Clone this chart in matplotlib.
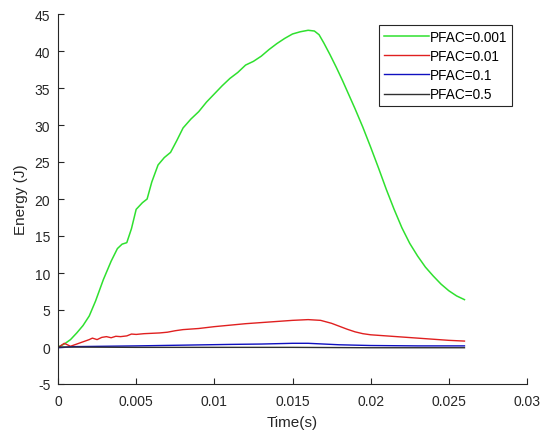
import matplotlib
matplotlib.use("Agg")
import matplotlib.pyplot as plt
from matplotlib.ticker import FuncFormatter, MultipleLocator

plt.rcParams['font.family'] = ['Liberation Sans', 'DejaVu Sans']

# PFAC = 0.001
t_g = [0, 0.0004, 0.0008, 0.0012, 0.0016, 0.002, 0.0024, 0.0029, 0.0034, 0.0038,
       0.0041, 0.0044, 0.0047, 0.005, 0.0054, 0.0057, 0.006, 0.0064, 0.0068, 0.0072,
       0.0076, 0.008, 0.0085, 0.009, 0.0095, 0.01, 0.0105, 0.011, 0.0115, 0.012,
       0.0125, 0.013, 0.0135, 0.014, 0.0145, 0.015, 0.0155, 0.016, 0.0164, 0.0167,
       0.017, 0.0174, 0.0178, 0.0182, 0.0186, 0.019, 0.0195, 0.02, 0.0205, 0.021,
       0.0215, 0.022, 0.0225, 0.023, 0.0235, 0.024, 0.0245, 0.025, 0.0255, 0.026]
e_g = [0, 0.4, 1.0, 1.9, 2.9, 4.2, 6.2, 9.1, 11.6, 13.3,
       13.9, 14.1, 16.0, 18.6, 19.5, 20.0, 22.3, 24.6, 25.6, 26.3,
       27.9, 29.6, 30.8, 31.8, 33.1, 34.2, 35.3, 36.3, 37.1, 38.1,
       38.6, 39.3, 40.2, 41.0, 41.7, 42.3, 42.6, 42.8, 42.7, 42.2,
       41.1, 39.5, 37.8, 36.0, 34.1, 32.2, 29.7, 27.0, 24.2, 21.3,
       18.6, 16.1, 14.0, 12.3, 10.8, 9.6, 8.5, 7.6, 6.9, 6.4]

# PFAC = 0.01
t_r = [0, 0.0004, 0.0008, 0.0012, 0.0016, 0.002, 0.0022, 0.0025, 0.0028, 0.0031,
       0.0034, 0.0037, 0.004, 0.0044, 0.0047, 0.005, 0.0055, 0.006, 0.0065, 0.007,
       0.0075, 0.008, 0.009, 0.01, 0.011, 0.012, 0.013, 0.014, 0.015, 0.016,
       0.0168, 0.0175, 0.018, 0.0185, 0.019, 0.0195, 0.02, 0.021, 0.022, 0.023,
       0.024, 0.025, 0.026]
e_r = [-0.1, 0.5, 0.1, 0.4, 0.7, 1.0, 1.2, 1.0, 1.3, 1.4,
       1.25, 1.45, 1.4, 1.5, 1.75, 1.7, 1.8, 1.85, 1.9, 2.0,
       2.2, 2.35, 2.5, 2.75, 2.95, 3.15, 3.3, 3.45, 3.6, 3.7,
       3.6, 3.2, 2.8, 2.4, 2.05, 1.8, 1.65, 1.5, 1.35, 1.2,
       1.05, 0.9, 0.8]

# PFAC = 0.1
t_b = [0, 0.001, 0.003, 0.005, 0.008, 0.011, 0.013, 0.015, 0.016, 0.017,
       0.018, 0.02, 0.023, 0.026]
e_b = [-0.1, 0.05, 0.1, 0.15, 0.25, 0.35, 0.4, 0.5, 0.5, 0.4,
       0.3, 0.2, 0.15, 0.15]

# PFAC = 0.5
t_k = [0, 0.005, 0.01, 0.015, 0.02, 0.026]
e_k = [0, -0.05, -0.05, -0.05, -0.1, -0.1]

fig = plt.figure(figsize=(5.49, 4.35), dpi=100)
ax = fig.add_axes([58/549, 1-385/435, (527-58)/549, (385-15)/435])

ax.plot(t_g, e_g, color='#2fe02f', lw=1.1, label='PFAC=0.001')
ax.plot(t_r, e_r, color='#e02020', lw=1.0, label='PFAC=0.01')
ax.plot(t_b, e_b, color='#1010c0', lw=1.0, label='PFAC=0.1')
ax.plot(t_k, e_k, color='#303030', lw=1.0, label='PFAC=0.5')

ax.set_xlim(0, 0.03)
ax.set_ylim(-5, 45)
ax.xaxis.set_major_locator(MultipleLocator(0.005))
ax.yaxis.set_major_locator(MultipleLocator(5))
ax.xaxis.set_major_formatter(FuncFormatter(lambda v, p: '%g' % round(v, 4)))
ax.yaxis.set_major_formatter(FuncFormatter(lambda v, p: '%g' % v))

gray = '#262626'
for s in ['top', 'right']:
    ax.spines[s].set_visible(False)
for s in ['left', 'bottom']:
    ax.spines[s].set_color(gray)
    ax.spines[s].set_linewidth(0.8)
ax.tick_params(direction='in', length=4, width=0.8, colors=gray, labelsize=10)
ax.tick_params(axis='x', pad=7.5)
ax.tick_params(axis='y', pad=5.5)

ax.set_xlabel('Time(s)', fontsize=11, color=gray, labelpad=5)
ax.set_ylabel('Energy (J)', fontsize=11, color=gray, labelpad=5)

leg = ax.legend(loc='upper right', bbox_to_anchor=(512/549, 1-26/435),
                bbox_transform=fig.transFigure, borderaxespad=0, fontsize=9.8,
                fancybox=False, framealpha=1, edgecolor=gray, handlelength=3.3,
                handletextpad=0.1, labelspacing=0.38, borderpad=0.35)
leg.get_frame().set_linewidth(0.8)

fig.savefig('out.png', dpi=100)
